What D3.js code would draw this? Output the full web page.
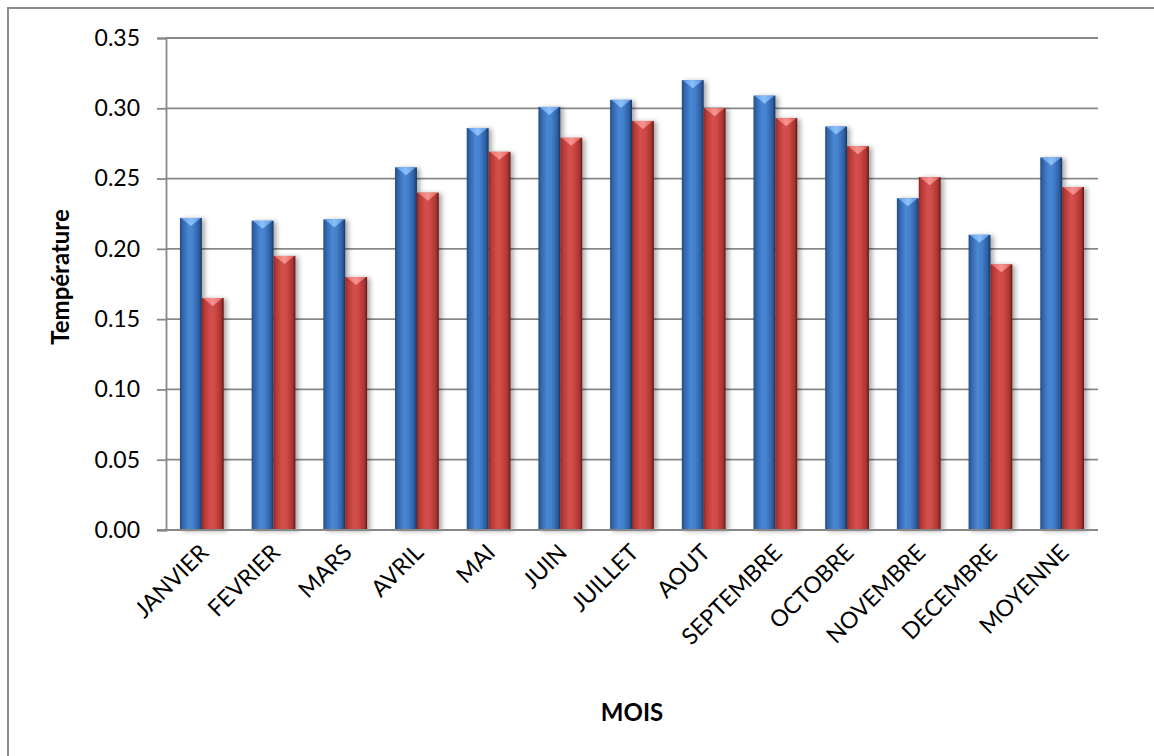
<!DOCTYPE html>
<html>
<head>
<meta charset="utf-8">
<script src="https://cdn.jsdelivr.net/npm/d3@7"></script>
<style>
  html, body { margin: 0; padding: 0; background: #fff; }
  svg { display: block; }
  text { font-family: Lato, "Open Sans", sans-serif; fill: #000; }
</style>
</head>
<body>
<svg id="chart" width="1154" height="756"></svg>
<script>
// Monthly values, two series
const months = ["JANVIER", "FEVRIER", "MARS", "AVRIL", "MAI", "JUIN", "JUILLET",
  "AOUT", "SEPTEMBRE", "OCTOBRE", "NOVEMBRE", "DECEMBRE", "MOYENNE"];
const seriesA = [0.222, 0.220, 0.221, 0.258, 0.286, 0.301, 0.306, 0.320, 0.309, 0.287, 0.236, 0.210, 0.265];
const seriesB = [0.165, 0.195, 0.180, 0.240, 0.269, 0.279, 0.291, 0.300, 0.293, 0.273, 0.251, 0.189, 0.244];
const yTicks = [0, 0.05, 0.10, 0.15, 0.20, 0.25, 0.30, 0.35];
const yTitle = "Température";
const xTitle = "MOIS";

const svg = d3.select("#chart");
const W = 1154, H = 756;
const plot = { left: 166, right: 1098, top: 38, bottom: 530 };

// Outer chart frame
svg.append("rect")
  .attr("x", 8).attr("y", 8).attr("width", W + 10).attr("height", H + 10)
  .attr("fill", "#fff").attr("stroke", "#8c8c8c").attr("stroke-width", 2);

const defs = svg.append("defs");

function bodyGradient(id, stops) {
  const g = defs.append("linearGradient").attr("id", id)
    .attr("x1", "0%").attr("x2", "100%").attr("y1", "0%").attr("y2", "0%");
  stops.forEach(s => g.append("stop").attr("offset", s[0]).attr("stop-color", s[1]));
}
bodyGradient("gBlue", [["0%", "#22497f"], ["10%", "#2f62a8"], ["40%", "#4a87d3"], ["60%", "#4480cc"], ["88%", "#2c5c9e"], ["100%", "#17345c"]]);
bodyGradient("gRed", [["0%", "#8a2624"], ["10%", "#b23733"], ["40%", "#d4504c"], ["60%", "#cf4945"], ["88%", "#a83431"], ["100%", "#5e1715"]]);
bodyGradient("gBlueTop", [["0%", "#5f9be6"], ["50%", "#8cc0fb"], ["100%", "#5a93dc"]]);
bodyGradient("gRedTop", [["0%", "#e46a66"], ["50%", "#f79490"], ["100%", "#dc5f5b"]]);

const shadow = defs.append("filter").attr("id", "shadow")
  .attr("x", "-30%").attr("y", "-10%").attr("width", "180%").attr("height", "130%");
shadow.append("feDropShadow").attr("dx", 3).attr("dy", 1).attr("stdDeviation", 2.5)
  .attr("flood-color", "#000").attr("flood-opacity", 0.35);

const x = d3.scaleBand().domain(months).range([plot.left, plot.right]).padding(0);
const y = d3.scaleLinear().domain([0, 0.35]).range([plot.bottom, plot.top]);
const pairW = x.bandwidth() * 0.61;
const sub = d3.scaleBand().domain(["A", "B"]).range([0, pairW]).padding(0);

// Gridlines
svg.append("g").selectAll("line").data(yTicks.filter(t => t > 0)).join("line")
  .attr("x1", plot.left).attr("x2", plot.right)
  .attr("y1", d => y(d)).attr("y2", d => y(d))
  .attr("stroke", "#888").attr("stroke-width", 1.8);

// Y axis
const yAxis = d3.axisLeft(y).tickValues(yTicks).tickFormat(d3.format(".2f"))
  .tickSize(9).tickPadding(17);
const ya = svg.append("g").attr("transform", `translate(${plot.left},0)`).call(yAxis);
ya.select(".domain").attr("stroke", "#888").attr("stroke-width", 1.8);
ya.selectAll(".tick line").attr("stroke", "#888").attr("stroke-width", 1.8);
ya.selectAll(".tick text").attr("font-size", 23).attr("font-family", "Lato, sans-serif").attr("fill", "#000");

// Bars
const rows = months.map((m, i) => ({ m, vals: [["A", seriesA[i]], ["B", seriesB[i]]] }));
const groups = svg.append("g").selectAll("g").data(rows).join("g")
  .attr("transform", d => `translate(${x(d.m) + (x.bandwidth() - pairW) / 2},0)`);

const bars = groups.selectAll("g.bar").data(d => d.vals).join("g").attr("class", "bar");
bars.append("rect")
  .attr("x", d => sub(d[0])).attr("width", sub.bandwidth())
  .attr("y", d => y(d[1])).attr("height", d => y(0) - y(d[1]))
  .attr("fill", d => d[0] === "A" ? "url(#gBlue)" : "url(#gRed)")
  .attr("filter", "url(#shadow)");
// Bevelled top face
bars.append("path")
  .attr("d", d => {
    const x0 = sub(d[0]), x1 = x0 + sub.bandwidth(), xm = (x0 + x1) / 2, t = y(d[1]);
    return `M${x0 + 1},${t}L${x1 - 1},${t}L${xm},${t + 8}Z`;
  })
  .attr("fill", d => d[0] === "A" ? "url(#gBlueTop)" : "url(#gRedTop)");

// X axis baseline
svg.append("line")
  .attr("x1", plot.left - 9).attr("x2", plot.right)
  .attr("y1", y(0)).attr("y2", y(0))
  .attr("stroke", "#888").attr("stroke-width", 1.8);

// Category labels, rotated
svg.append("g").selectAll("text").data(months).join("text")
  .attr("transform", d => `translate(${x(d) + x.bandwidth() / 2 + 8},${plot.bottom + 24}) rotate(-45)`)
  .attr("text-anchor", "end")
  .attr("font-size", 23)
  .text(d => d);

// Axis titles
svg.append("text")
  .attr("transform", `translate(69,277) rotate(-90)`)
  .attr("text-anchor", "middle").attr("font-size", 24).attr("font-weight", "bold")
  .text(yTitle);
svg.append("text")
  .attr("x", (plot.left + plot.right) / 2).attr("y", 721)
  .attr("text-anchor", "middle").attr("font-size", 24).attr("font-weight", "bold")
  .text(xTitle);
</script>
</body>
</html>
